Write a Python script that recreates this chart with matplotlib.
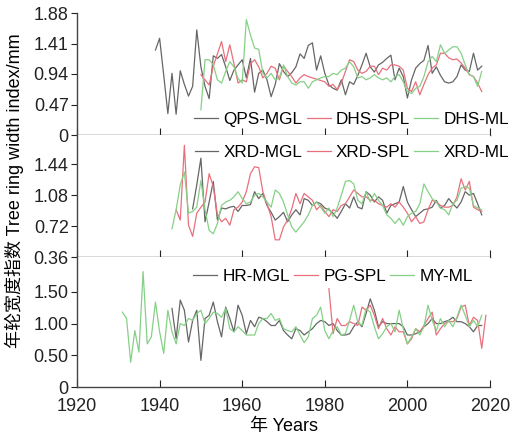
import numpy as np
import matplotlib
matplotlib.use("Agg")
import matplotlib.pyplot as plt

plt.rcParams['font.family'] = ['Liberation Sans', 'Noto Sans CJK SC', 'DejaVu Sans']

# panel 1
qps_mgl_start = 1939
qps_mgl = [1.31, 1.49, 0.92, 0.33, 0.95, 0.32, 0.99, 0.78, 0.60, 0.75,
           1.62, 1.05, 0.75, 0.56, 1.22, 1.18, 1.24, 1.05, 0.84, 1.00,
           1.08, 1.16, 0.88, 1.18, 0.66, 0.95, 1.00, 0.85, 0.59, 0.78,
           1.10, 0.98, 0.90, 0.96, 1.05, 1.25, 1.18, 1.38, 1.42, 1.00,
           1.22, 0.95, 0.77, 0.72, 0.69, 0.85, 0.62, 0.82, 0.78, 0.92,
           1.08, 1.26, 1.05, 0.97, 1.08, 1.12, 1.18, 1.23, 0.85, 1.03,
           0.90, 0.57, 0.85, 1.03, 1.10, 1.15, 1.38, 0.95, 1.05, 0.92,
           0.82, 0.80, 0.82, 0.90, 1.08, 1.00, 0.98, 1.26, 1.00, 1.06]
dhs_spl_start = 1950
dhs_spl = [0.93, 0.85, 0.77, 1.06, 1.25, 1.44, 1.13, 1.39, 1.10, 0.80,
           0.85, 0.82, 1.10, 1.16, 1.05, 0.88, 0.95, 1.06, 1.03, 0.85,
           1.06, 0.98, 0.90, 0.80, 0.88, 0.93, 0.90, 0.88, 0.86, 0.84,
           0.82, 0.75, 0.78, 0.70, 0.80, 0.98, 1.16, 1.13, 1.00, 0.95,
           0.98, 1.06, 1.06, 0.93, 1.03, 1.00, 1.08, 1.08, 1.06, 1.00,
           0.72, 0.67, 0.82, 0.62, 0.78, 0.93, 1.03, 1.08, 1.26, 1.26,
           1.19, 1.16, 1.17, 1.11, 1.03, 0.93, 0.90, 0.80, 0.67]
dhs_ml_start = 1950
dhs_ml = [0.39, 1.16, 1.16, 1.08, 0.85, 0.80, 0.98, 1.13, 1.05, 0.87,
          0.80, 1.78, 1.54, 1.34, 1.32, 0.95, 0.88, 0.95, 0.85, 0.88,
          1.08, 0.90, 0.80, 0.77, 0.82, 0.82, 0.72, 0.82, 0.85, 0.88,
          0.90, 0.90, 0.95, 0.93, 1.00, 1.03, 1.13, 1.05, 0.88, 0.90,
          0.85, 0.88, 0.93, 0.88, 0.85, 0.88, 0.82, 0.90, 0.93, 0.82,
          0.67, 0.64, 0.72, 0.75, 0.90, 1.13, 1.21, 1.13, 1.39, 1.26,
          1.31, 1.36, 1.36, 1.26, 1.08, 0.93, 0.90, 0.75, 0.98]

# panel 2
xrd_mgl_start = 1948
xrd_mgl = [0.92, 1.20, 1.51, 0.77, 1.00, 1.24, 0.79, 0.93, 0.92, 0.94,
           0.95, 0.89, 0.96, 0.96, 0.97, 1.12, 1.04, 1.10, 0.96, 0.88,
           0.79, 0.83, 0.88, 0.77, 0.85, 0.91, 0.85, 1.04, 1.02, 0.96,
           1.00, 0.98, 0.93, 0.91, 0.87, 0.81, 0.89, 0.98, 0.93, 1.06,
           0.94, 0.92, 1.12, 1.08, 1.00, 1.06, 1.02, 0.87, 0.96, 0.98,
           1.00, 1.18, 1.00, 0.91, 0.83, 0.87, 0.91, 0.92, 0.94, 1.02,
           0.93, 0.96, 1.04, 0.98, 0.93, 1.00, 1.12, 1.08, 1.10, 0.98,
           0.85]
xrd_spl_start = 1944
xrd_spl = [0.91, 0.79, 1.66, 0.73, 0.60, 0.87, 0.94, 1.00, 1.33, 1.18,
           0.85, 0.77, 0.81, 0.73, 0.91, 0.94, 1.00, 1.12, 1.33, 1.41,
           1.40, 1.12, 0.98, 0.83, 0.56, 0.56, 0.71, 0.79, 0.92, 1.10,
           0.98, 1.10, 1.06, 1.02, 0.91, 0.96, 0.89, 0.83, 0.91, 0.89,
           0.96, 0.98, 1.06, 1.14, 1.10, 1.06, 1.06, 1.02, 1.02, 0.98,
           0.96, 0.94, 0.98, 0.94, 1.00, 0.94, 0.87, 0.77, 0.83, 0.75,
           0.77, 0.91, 1.02, 1.00, 0.96, 0.94, 0.94, 0.96, 1.06, 1.27,
           1.14, 1.24, 0.94, 0.91, 0.89]
xrd_ml_start = 1943
xrd_ml = [0.69, 0.91, 1.20, 1.35, 0.87, 0.89, 0.94, 1.25, 0.91, 0.67,
          0.63, 0.75, 0.96, 1.00, 1.02, 1.06, 1.12, 1.04, 0.98, 1.00,
          1.08, 1.10, 1.06, 1.00, 0.94, 1.14, 1.10, 1.00, 0.85, 0.71,
          0.65, 0.71, 0.77, 0.85, 0.96, 1.00, 0.94, 0.87, 0.93, 0.83,
          0.93, 1.08, 1.24, 1.25, 1.21, 1.02, 0.98, 1.12, 1.00, 1.10,
          1.02, 0.96, 0.85, 0.81, 0.75, 0.81, 0.73, 0.83, 0.87, 0.89,
          0.98, 1.21, 1.12, 1.04, 1.00, 0.93, 0.91, 0.85, 0.98, 1.02,
          1.16, 1.18, 1.16, 0.96, 0.93, 0.91]

# panel 3
hr_mgl_start = 1943
hr_mgl = [1.24, 0.76, 1.37, 1.21, 0.71, 1.05, 1.21, 0.42, 1.08, 1.13,
          1.34, 1.03, 0.79, 1.26, 1.08, 0.87, 1.29, 1.13, 0.84, 1.05,
          0.95, 1.10, 1.08, 1.03, 0.97, 0.97, 1.05, 0.89, 0.82, 0.76,
          0.92, 0.89, 0.82, 0.87, 0.92, 1.00, 1.05, 1.03, 0.97, 1.00,
          0.89, 0.82, 0.82, 0.84, 0.95, 1.03, 0.95, 1.16, 1.39, 1.21,
          0.95, 1.03, 1.00, 1.00, 1.00, 1.00, 0.95, 0.82, 0.82, 0.84,
          0.87, 0.95, 1.00, 1.08, 1.00, 1.00, 1.03, 1.05, 1.10, 1.03,
          1.03, 1.00, 0.95, 0.87, 0.97, 0.97]
pg_spl_start = 1981
pg_spl = [1.55, 0.84, 1.08, 0.97, 0.97, 1.03, 1.00, 0.97, 1.26, 1.21,
          1.29, 1.13, 0.92, 1.08, 0.92, 0.82, 0.95, 0.87, 0.87, 0.68,
          0.76, 0.92, 0.87, 0.97, 1.08, 1.18, 0.82, 0.92, 1.00, 1.03,
          1.03, 1.08, 1.26, 1.29, 0.97, 1.10, 1.05, 0.61, 1.13]
my_ml_start = 1931
my_ml = [1.18, 1.08, 0.39, 0.89, 0.55, 1.82, 0.68, 0.79, 1.34, 0.87,
         0.53, 1.21, 0.87, 0.68, 1.00, 0.97, 1.08, 1.05, 1.16, 1.21,
         1.00, 1.08, 1.18, 1.16, 1.10, 1.24, 0.92, 0.87, 0.95, 0.89,
         0.82, 0.82, 0.82, 1.00, 1.08, 1.08, 1.16, 1.05, 1.08, 0.92,
         0.89, 0.87, 0.95, 0.82, 0.70, 0.79, 1.08, 1.13, 1.26, 0.89,
         0.76, 0.89, 0.95, 0.82, 0.84, 1.05, 1.29, 1.02, 0.97, 1.24,
         1.18, 0.95, 0.76, 0.84, 0.95, 1.00, 0.87, 1.21, 0.92, 0.68,
         0.79, 0.92, 0.82, 0.95, 1.29, 1.05, 0.89, 1.08, 0.95, 1.05,
         0.95, 1.10, 1.29, 1.13, 0.95, 1.05, 0.95, 1.13]

gray = '#666666'
red = '#e8707c'
green = '#86d086'

panels = [
    ([('QPS-MGL', qps_mgl_start, qps_mgl, gray),
      ('DHS-SPL', dhs_spl_start, dhs_spl, red),
      ('DHS-ML', dhs_ml_start, dhs_ml, green)],
     (0, 1.88), [0, 0.47, 0.94, 1.41, 1.88], ['0', '0.47', '0.94', '1.41', '1.88'], (0.665, 0.13)),
    ([('XRD-MGL', xrd_mgl_start, xrd_mgl, gray),
      ('XRD-SPL', xrd_spl_start, xrd_spl, red),
      ('XRD-ML', xrd_ml_start, xrd_ml, green)],
     (0.36, 1.78), [0.36, 0.72, 1.08, 1.44], ['0.36', '0.72', '1.08', '1.44'], (0.665, 0.86)),
    ([('HR-MGL', hr_mgl_start, hr_mgl, gray),
      ('PG-SPL', pg_spl_start, pg_spl, red),
      ('MY-ML', my_ml_start, my_ml, green)],
     (0, 2.05), [0, 0.5, 1.0, 1.5], ['0', '0.50', '1.00', '1.50'], (0.62, 0.85)),
]

fig = plt.figure(figsize=(5.25, 4.38), dpi=100)
left, width = 77 / 525, 413 / 525
boxes = [(13, 135), (135, 257), (257, 387)]
fs = 13

axes = []
for (series, ylim, yt, ytl, legpos), (top, bot) in zip(panels, boxes):
    ax = fig.add_axes([left, 1 - bot / 438, width, (bot - top) / 438])
    for name, start, vals, col in series:
        yrs = np.arange(start, start + len(vals))
        ax.plot(yrs, vals, color=col, lw=0.9, label=name)
    ax.set_xlim(1920, 2020)
    ax.set_ylim(*ylim)
    ax.set_yticks(yt)
    ax.set_yticklabels(ytl)
    ax.set_xticks(np.arange(1920, 2021, 20))
    ax.spines['top'].set_visible(False)
    ax.spines['right'].set_visible(False)
    for s in ['left', 'bottom']:
        ax.spines[s].set_color('#444444')
        ax.spines[s].set_linewidth(1.0)
    ax.tick_params(axis='y', direction='out', length=4, labelsize=fs, colors='#222222', pad=2)
    ax.tick_params(axis='x', direction='in', length=5, labelsize=fs, colors='#222222', pad=8)
    ax.legend(loc='center', bbox_to_anchor=legpos, ncol=3, frameon=False, fontsize=12.3,
              handlelength=1.4, handletextpad=0.3, columnspacing=0.25, borderpad=0)
    axes.append(ax)

for ax in axes[:-1]:
    ax.tick_params(axis='x', labelbottom=False)

axes[-1].set_xlabel('年 Years', fontsize=fs, labelpad=2)
fig.text(0.028, 0.565, '年轮宽度指数 Tree ring width index/mm', rotation=90,
         ha='center', va='center', fontsize=fs)

fig.savefig('out.png', dpi=100)
